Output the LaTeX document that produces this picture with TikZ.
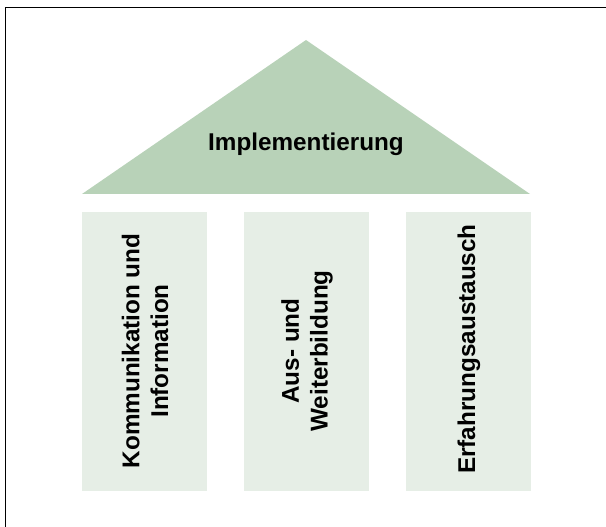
\documentclass[tikz,border=0pt]{standalone}
\usepackage{fontspec}
\setmainfont{Liberation Sans}
\definecolor{roofgreen}{HTML}{B8D2B8}
\definecolor{pillargreen}{HTML}{E6EEE6}
\begin{document}
\begin{tikzpicture}[x=0.75pt,y=-0.75pt,
  pillar/.style={fill=pillargreen,draw=none},
  lbl/.style={font=\fontsize{18.2}{21.5}\selectfont\bfseries,align=center,text=black,inner sep=0pt},
  frameline/.style={draw=black,line width=0.9pt}]
\useasboundingbox (0,0) rectangle (606,527);
% frame (top and left only, cropped)
\coordinate (fTL) at (5.5,7.5);
\coordinate (fTR) at (606,7.5);
\coordinate (fBL) at (5.5,527);
\draw[frameline] (fTR) -- (fTL) -- (fBL);
% roof
\coordinate (apex) at (306,40);
\coordinate (rl) at (82,194);
\coordinate (rr) at (530,194);
\fill[roofgreen] (rl) -- (apex) -- (rr) -- cycle;
\node[lbl,anchor=base] (roof) at (306,151) {Implementierung};
% pillars
\path[pillar] (82,212) rectangle (207,491);
\path[pillar] (244,212) rectangle (369,491);
\path[pillar] (406,212) rectangle (531,491);
\node[lbl,rotate=90] (p1) at (145,351) {Kommunikation und\\Information};
\node[lbl,rotate=90] (p2) at (307,351) {Aus- und\\Weiterbildung};
\node[lbl,rotate=90] (p3) at (469,349) {Erfahrungsaustausch};
\end{tikzpicture}
\end{document}
